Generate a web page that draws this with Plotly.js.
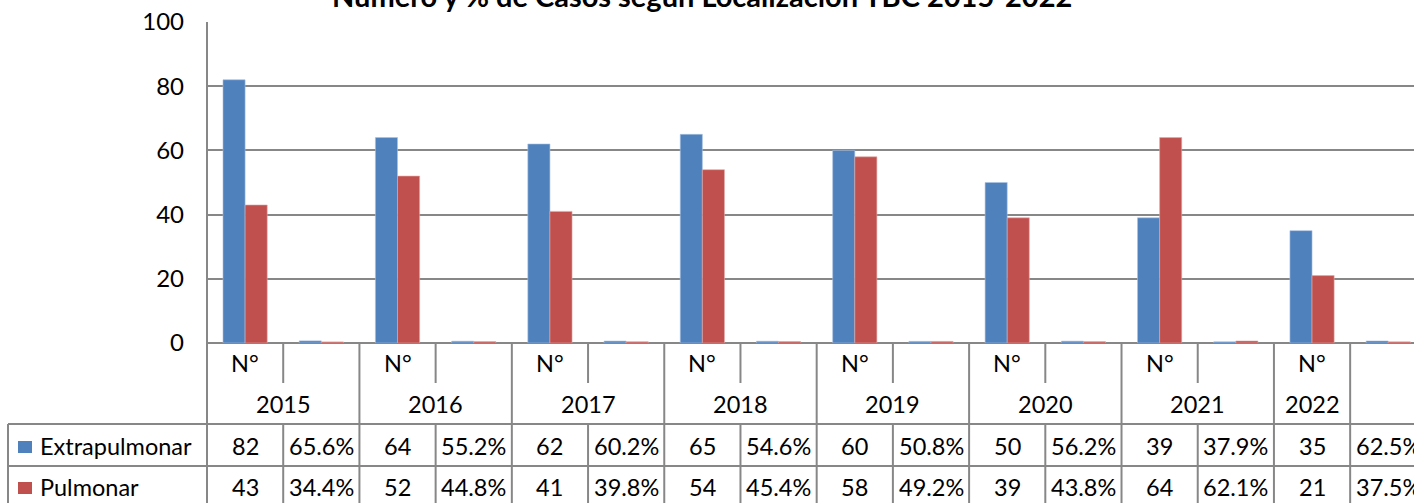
<!DOCTYPE html>
<html>
<head>
<meta charset="utf-8">
<script src="https://cdn.plot.ly/plotly-3.0.1.min.js"></script>
<style>html,body{margin:0;padding:0;background:#fff;}#chart{width:1414px;height:503px;}</style>
</head>
<body>
<div id="chart"></div>
<script>
// ---- data ----
const years = ['2015','2016','2017','2018','2019','2020','2021','2022'];
const subLabels = ['N°', ''];
const seriesNames = ['Extrapulmonar', 'Pulmonar'];
const extraN = [82, 64, 62, 65, 60, 50, 39, 35];
const extraPct = [65.6, 55.2, 60.2, 54.6, 50.8, 56.2, 37.9, 62.5];
const pulmoN = [43, 52, 41, 54, 58, 39, 64, 21];
const pulmoPct = [34.4, 44.8, 39.8, 45.4, 49.2, 43.8, 62.1, 37.5];
const titleText = 'Número y % de Casos según Localización TBC 2015-2022';

// ---- style ----
const BLUE = '#4F81BD', RED = '#C0504D', GRID = '#878787';
const FONT = 'Lato, "Open Sans", sans-serif';
const W = 1414, H = 503, L = 207, T = 22, B = 160;
const plotW = W - L, plotH = H - T - B;
const colW = 76.21;
const px = p => (p - L) / plotW;
const py = p => (H - B - p) / plotH;

// build columns: for each year, N° column then % column
const xs = [], yExtra = [], yPulmo = [];
years.forEach((y, k) => {
  xs.push(2*k, 2*k+1);
  yExtra.push(extraN[k], extraPct[k] / 100);
  yPulmo.push(pulmoN[k], pulmoPct[k] / 100);
});

const traces = [
  {type:'bar', x: xs, y: yExtra, name: seriesNames[0], marker:{color: BLUE, line:{color:'#a9c1e0', width:0.6}}, hoverinfo:'skip'},
  {type:'bar', x: xs, y: yPulmo, name: seriesNames[1], marker:{color: RED, line:{color:'#e0a9a8', width:0.6}}, hoverinfo:'skip'}
];

const ann = [];
const shapes = [];
const fs = 23.5;
// title
ann.push({text: '<b>' + titleText + '</b>', xref:'paper', yref:'paper', x: px(702), y: py(-4), xanchor:'center', yanchor:'middle', showarrow:false, font:{family: FONT, size: 29, color:'#000'}});

// header + year rows + data rows
const rowN = 363, rowYear = 404, rowE = 446, rowP = 487;
years.forEach((y, k) => {
  ann.push({text: subLabels[0], xref:'x', yref:'paper', x: 2*k, y: py(rowN), xanchor:'center', yanchor:'middle', showarrow:false, font:{family:FONT, size:fs, color:'#000'}});
  const last = k === years.length - 1;
  ann.push({text: y, xref:'x', yref:'paper', x: last ? 2*k : 2*k + 0.5, y: py(rowYear), xanchor:'center', yanchor:'middle', showarrow:false, font:{family:FONT, size:fs, color:'#000'}});
  ann.push({text: String(extraN[k]), xref:'x', yref:'paper', x: 2*k, y: py(rowE), xanchor:'center', yanchor:'middle', showarrow:false, font:{family:FONT, size:fs, color:'#000'}});
  ann.push({text: extraPct[k].toFixed(1) + '%', xref:'x', yref:'paper', x: 2*k+1, y: py(rowE), xanchor:'center', yanchor:'middle', showarrow:false, font:{family:FONT, size:fs, color:'#000'}});
  ann.push({text: String(pulmoN[k]), xref:'x', yref:'paper', x: 2*k, y: py(rowP), xanchor:'center', yanchor:'middle', showarrow:false, font:{family:FONT, size:fs, color:'#000'}});
  ann.push({text: pulmoPct[k].toFixed(1) + '%', xref:'x', yref:'paper', x: 2*k+1, y: py(rowP), xanchor:'center', yanchor:'middle', showarrow:false, font:{family:FONT, size:fs, color:'#000'}});
});
// legend labels
[[seriesNames[0], rowE, BLUE], [seriesNames[1], rowP, RED]].forEach(([name, r, c]) => {
  ann.push({text: name, xref:'paper', yref:'paper', x: px(38), y: py(r), xanchor:'left', yanchor:'middle', showarrow:false, font:{family:FONT, size:fs, color:'#000'}});
  shapes.push({type:'rect', xref:'paper', yref:'paper', x0: px(18), x1: px(32), y0: py(r-5), y1: py(r+7), fillcolor: c, line:{width:0}});
});

// table lines
const LW = 2;
const nCols = years.length * 2;
for (let i = 0; i <= nCols; i++) {
  const xv = i - 0.5;
  if (i % 2 === 0 || i === nCols - 1) {
    shapes.push({type:'line', xref:'x', yref:'paper', x0: xv, x1: xv, y0: py(343), y1: py(510), line:{color: GRID, width: LW}});
  } else {
    shapes.push({type:'line', xref:'x', yref:'paper', x0: xv, x1: xv, y0: py(343), y1: py(383), line:{color: GRID, width: LW}});
    shapes.push({type:'line', xref:'x', yref:'paper', x0: xv, x1: xv, y0: py(424), y1: py(510), line:{color: GRID, width: LW}});
  }
}
// axis line extended
shapes.push({type:'line', xref:'paper', yref:'paper', x0: 0, x1: 0, y0: py(22), y1: py(510), line:{color: GRID, width: LW}});
// left border of legend column
shapes.push({type:'line', xref:'paper', yref:'paper', x0: px(8), x1: px(8), y0: py(424), y1: py(510), line:{color: GRID, width: LW}});
// horizontal lines
[424, 466].forEach(p => shapes.push({type:'line', xref:'paper', yref:'paper', x0: px(8), x1: 1.01, y0: py(p), y1: py(p), line:{color: GRID, width: LW}}));

const layout = {
  width: W, height: H,
  margin: {l: L, r: 0, t: T, b: B, pad: 0},
  paper_bgcolor: '#fff', plot_bgcolor: '#fff',
  showlegend: false,
  barmode: 'group', bargap: 0.42, bargroupgap: 0,
  xaxis: {range: [-0.5, -0.5 + plotW / colW], showticklabels: false, showgrid: false, zeroline: false, ticks: '', fixedrange: true},
  yaxis: {range: [0, 100], dtick: 20, tick0: 0, showgrid: true, gridcolor: GRID, gridwidth: 2, zeroline: true, zerolinecolor: GRID, zerolinewidth: 2,
          showline: false, ticks: '', ticklabelstandoff: 22, tickfont: {family: FONT, size: 24, color: '#000'}, fixedrange: true},
  annotations: ann,
  shapes: shapes,
  font: {family: FONT}
};

Plotly.newPlot('chart', traces, layout, {staticPlot: true, displayModeBar: false});
</script>
</body>
</html>
